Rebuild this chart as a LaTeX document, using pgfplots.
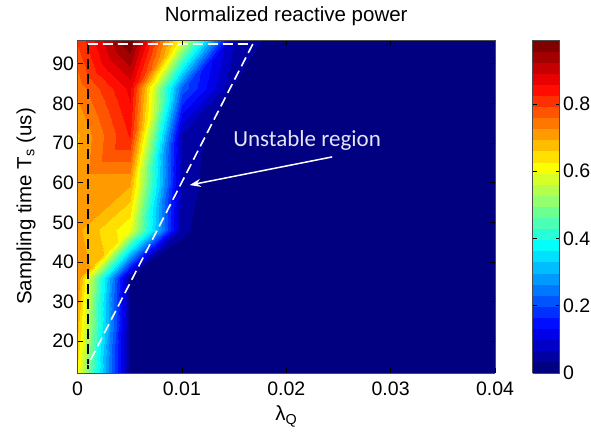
\documentclass[border=0pt]{standalone}
\usepackage{fontspec}
\setmainfont{Liberation Sans}
\newfontfamily\calibri{Carlito}
\usepackage{pgfplots}
\pgfplotsset{compat=1.18}
\usetikzlibrary{arrows.meta,calc}

\newcommand\tfont{\fontsize{19.5}{23}\selectfont}
\newcommand\lfont{\fontsize{20.5}{24}\selectfont}

\begin{document}
\begin{tikzpicture}
\begin{axis}[
  name=main,
  scale only axis, width=417.5pt, height=333pt,
  view={0}{90},
  xmin=0, xmax=0.04, ymin=12, ymax=96,
  xtick={0,0.01,0.02,0.03,0.04}, xticklabels={0,0.01,0.02,0.03,0.04},
  scaled x ticks=false,
  ytick={20,30,40,50,60,70,80,90},
  /pgf/number format/assume math mode=true,
  tick label style={font=\tfont},
  xticklabel style={anchor=base, yshift=-23pt},
  label style={font=\lfont},
  title style={font=\lfont, at={(0.5,1)}, anchor=base, yshift=12pt},
  title={Normalized reactive power},
  xlabel={λ\textsubscript{Q}},
  xlabel style={at={(axis description cs:0.5,0)}, anchor=base, yshift=-48pt},
  ylabel={Sampling time T\textsubscript{s} (us)},
  ylabel style={at={(axis description cs:-0.1234,0.5)}, anchor=center},
  tick align=inside, major tick length=5pt,
  tick style={black, line width=0.6pt},
  axis line style={black!70, line width=0.6pt},
  axis on top,
  colormap/jet,
  point meta min=0, point meta max=0.99,
  colorbar,
  colorbar style={
    width=27pt,
    at={(parent axis.north east)}, anchor=north west, xshift=29pt,
    ytick={0,0.2,0.4,0.6,0.8}, yticklabels={0,0.2,0.4,0.6,0.8},
    yticklabel style={font=\tfont},
    ytick pos=both, yticklabel pos=right,
    major tick length=4pt,
    axis line style={black!70},
  },
]
% grid: lambda_Q = 0.04 down to 0 in steps of 0.005, Ts = 12:12:96
\addplot3[contour filled={number=30}] coordinates {
(0.040,12,0) (0.035,12,0) (0.030,12,0) (0.025,12,0) (0.020,12,0) (0.015,12,0) (0.010,12,0) (0.005,12,0.02) (0,12,0.61)

(0.040,24,0) (0.035,24,0) (0.030,24,0) (0.025,24,0) (0.020,24,0) (0.015,24,0) (0.010,24,0) (0.005,24,0.03) (0,24,0.67)

(0.040,36,0) (0.035,36,0) (0.030,36,0) (0.025,36,0) (0.020,36,0) (0.015,36,0) (0.010,36,0) (0.005,36,0.03) (0,36,0.72)

(0.040,48,0) (0.035,48,0) (0.030,48,0) (0.025,48,0) (0.020,48,0) (0.015,48,0) (0.010,48,0.04) (0.005,48,0.60) (0,48,0.70)

(0.040,60,0) (0.035,60,0) (0.030,60,0) (0.025,60,0) (0.020,60,0) (0.015,60,0) (0.010,60,0.05) (0.005,60,0.70) (0,60,0.70)

(0.040,72,0) (0.035,72,0) (0.030,72,0) (0.025,72,0) (0.020,72,0) (0.015,72,0) (0.010,72,0.06) (0.005,72,0.83) (0,72,0.69)

(0.040,84,0) (0.035,84,0) (0.030,84,0) (0.025,84,0) (0.020,84,0) (0.015,84,0.03) (0.010,84,0.22) (0.005,84,0.87) (0,84,0.74)

(0.040,96,0) (0.035,96,0) (0.030,96,0) (0.025,96,0) (0.020,96,0) (0.015,96,0.07) (0.010,96,0.59) (0.005,96,0.99) (0,96,0.80)
};
% dashed boundaries
\addplot3[black, line width=1.6pt, dash pattern=on 10pt off 5pt] coordinates {(0.001,95,1) (0.001,13,1)};
\addplot3[white, line width=1.6pt, dash pattern=on 10pt off 5pt] coordinates {(0.001,95,1) (0.0168,95,1) (0.001,14,1)};
\draw[white, line width=1.5pt, -{Stealth[length=11pt,width=8pt]}] (axis cs:0.0244,66.5,1) -- (axis cs:0.01075,59.4,1);
\node[text={rgb,255:red,228;green,228;blue,242}, font=\calibri\fontsize{23}{27}\selectfont] at (axis cs:0.0220,70.7,1) {Unstable region};
\end{axis}
\pgfresetboundingbox
\useasboundingbox ($(main.south west)+(-77.5pt,-59pt)$) rectangle ($(main.north east)+(96pt,40pt)$);
\end{tikzpicture}
\end{document}
